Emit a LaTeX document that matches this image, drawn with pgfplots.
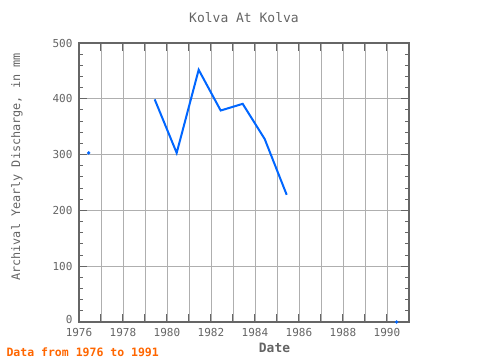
\documentclass[border=0pt]{standalone}
\usepackage{fontspec}
\setmainfont{DejaVu Sans Mono}
\usepackage{pgfplots}
\pgfplotsset{compat=1.18}
\definecolor{txtgray}{RGB}{100,100,100}
\definecolor{axgray}{RGB}{102,102,102}
\definecolor{gridgray}{RGB}{175,175,175}
\definecolor{lineblue}{RGB}{0,102,255}
\definecolor{footorange}{RGB}{255,102,0}
\begin{document}
\begin{tikzpicture}[x=1pt,y=1pt]
\path[use as bounding box] (0,0) rectangle (480,360);
\begin{axis}[
  at={(79pt,38pt)}, anchor=south west,
  width=330pt, height=279pt, scale only axis,
  xmin=1976, xmax=1991, ymin=0, ymax=500,
  xtick={1976,...,1991},
  xticklabels={1976,,1978,,1980,,1982,,1984,,1986,,1988,,1990,},
  ytick={0,100,...,500},
  yticklabels={\raisebox{5pt}{0},100,200,300,400,500},
  minor x tick num=2, minor y tick num=4,
  grid=major, major grid style={gridgray, line width=0.9pt},
  axis line style={axgray, line width=1.8pt},
  tick style={axgray, line width=1pt},
  major tick length=8pt, minor tick length=4pt,
  tick align=inside,
  ticklabel style={font=\fontsize{11}{11}\selectfont, text=txtgray},
  xticklabel style={yshift=-3pt},
  yticklabel style={xshift=-3pt},
  clip=false,
]
\addplot[lineblue, line width=2pt, no markers] coordinates {
  (1979.44,399) (1980.44,303) (1981.44,452) (1982.44,379)
  (1983.44,391) (1984.44,328) (1985.44,228)
};
\addplot[lineblue, only marks, mark=*, mark size=1.5pt] coordinates {
  (1976.44,303) (1990.44,0)
};
\end{axis}
\node[text=txtgray, font=\fontsize{13}{13}\selectfont] at (244,342) {Kolva At Kolva};
\node[text=txtgray, font=\fontsize{11.8}{12}\selectfont, rotate=90] at (17,193) {Archival Yearly Discharge, in mm};
\node[text=txtgray, font=\bfseries\fontsize{12.9}{13}\selectfont] at (274.5,12) {Date};
\node[anchor=west, text=footorange, font=\bfseries\fontsize{11.5}{12}\selectfont] at (3,8) {Data from 1976 to 1991};
\end{tikzpicture}
\end{document}
